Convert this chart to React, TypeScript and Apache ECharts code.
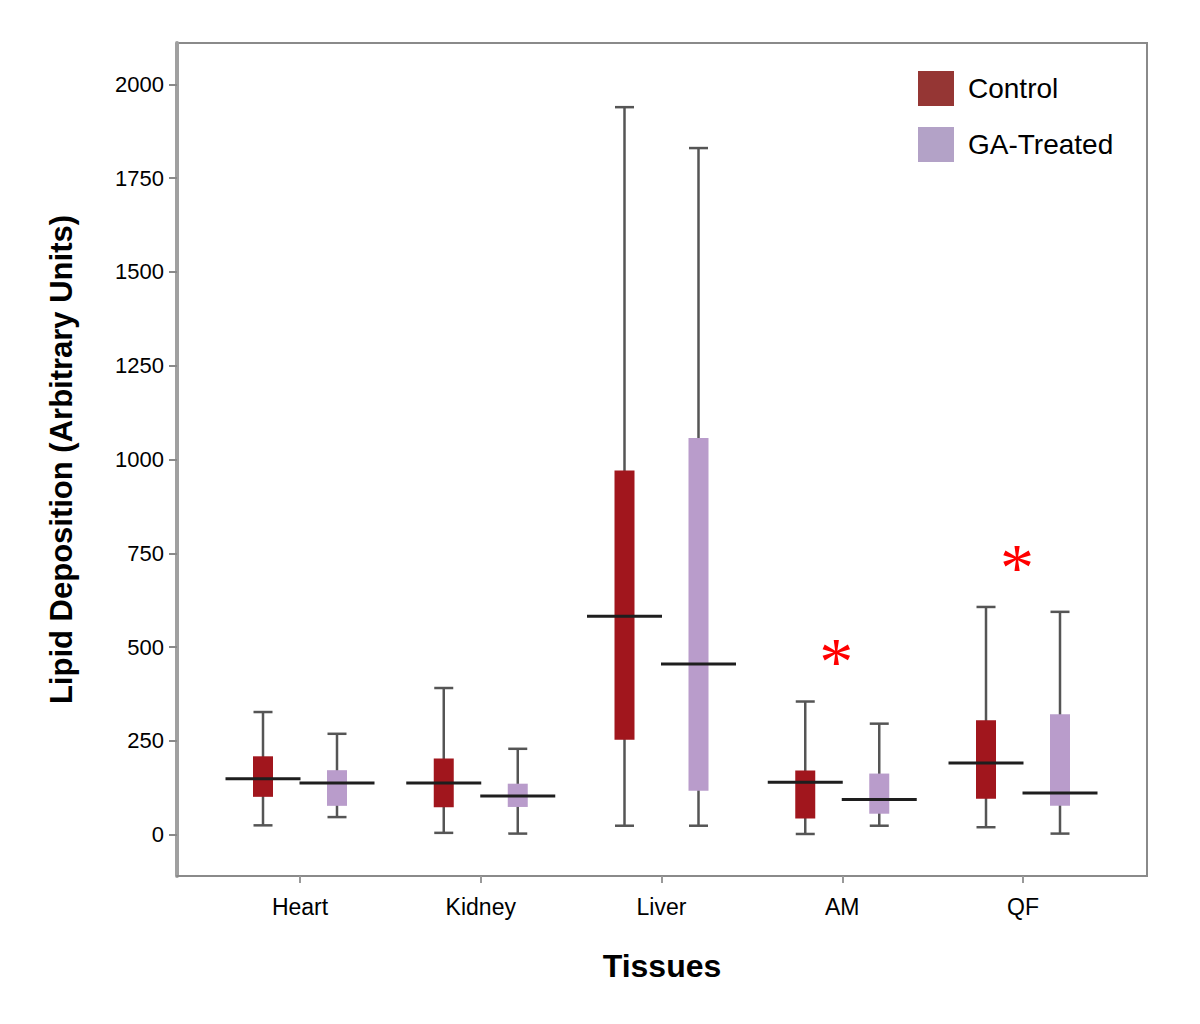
import React, { useEffect, useRef } from "react";
import * as echarts from "echarts";

// ---- Data ----
const categories = ["Heart", "Kidney", "Liver", "AM", "QF"];
const seriesNames = ["Control", "GA-Treated"];
// [min, Q1, median, Q3, max]
const controlStats = [
  [25, 101, 149, 209, 327],
  [5, 73, 138, 203, 391],
  [24, 253, 582, 971, 1939],
  [2, 43, 140, 171, 355],
  [20, 96, 191, 305, 607],
];
const treatedStats = [
  [47, 77, 138, 172, 269],
  [3, 74, 103, 136, 229],
  [24, 117, 455, 1057, 1830],
  [24, 56, 94, 163, 296],
  [3, 77, 111, 321, 594],
];
// significance markers: category and the value where the asterisk sits
const markerCategories = ["AM", "QF"];
const markerValues = [493, 743];
const yTicks = [0, 250, 500, 750, 1000, 1250, 1500, 1750, 2000];

const FONT = "'Liberation Sans', Arial, Helvetica, sans-serif";
const CONTROL_BOX = "#A1161D";
const TREATED_BOX = "#B99CCB";
const CONTROL_LEGEND = "#953634";
const TREATED_LEGEND = "#B3A2C7";

function makeBoxRender(offsetPx: number, fill: string) {
  return (params: any, api: any) => {
    const x = api.value(0);
    const lo = api.coord([x, api.value(1)]);
    const q1 = api.coord([x, api.value(2)]);
    const med = api.coord([x, api.value(3)]);
    const q3 = api.coord([x, api.value(4)]);
    const hi = api.coord([x, api.value(5)]);
    const cx = lo[0] + offsetPx;
    const boxW = 20;
    const capW = 19;
    const medW = 75;
    const wStyle = { stroke: "#555", lineWidth: 2.5 };
    return {
      type: "group",
      children: [
        { type: "line", shape: { x1: cx, y1: hi[1], x2: cx, y2: lo[1] }, style: wStyle },
        { type: "line", shape: { x1: cx - capW / 2, y1: hi[1], x2: cx + capW / 2, y2: hi[1] }, style: wStyle },
        { type: "line", shape: { x1: cx - capW / 2, y1: lo[1], x2: cx + capW / 2, y2: lo[1] }, style: wStyle },
        {
          type: "rect",
          shape: { x: cx - boxW / 2, y: q3[1], width: boxW, height: q1[1] - q3[1] },
          style: { fill },
        },
        {
          type: "line",
          shape: { x1: cx - medW / 2, y1: med[1], x2: cx + medW / 2, y2: med[1] },
          style: { stroke: "#1e1e1e", lineWidth: 3 },
        },
      ],
    };
  };
}

function asteriskRender(params: any, api: any) {
  const p = api.coord([api.value(0), api.value(1)]);
  return {
    type: "text",
    x: p[0] - 6,
    y: p[1] + 11,
    style: {
      text: "*",
      fill: "#FF0000",
      fontSize: 68,
      fontFamily: "'Liberation Serif', 'Times New Roman', serif",
      align: "center",
      verticalAlign: "middle",
    },
  };
}

export default function App() {
  const ref = useRef<HTMLDivElement>(null);
  useEffect(() => {
    if (!ref.current) return;
    const chart = echarts.init(ref.current, undefined, { renderer: "svg" });
    const controlData = controlStats.map((s, i) => [i + 1, ...s]);
    const treatedData = treatedStats.map((s, i) => [i + 1, ...s]);
    const markerData = markerCategories.map((c, i) => [categories.indexOf(c) + 1, markerValues[i]]);
    chart.setOption({
      animation: false,
      backgroundColor: "#ffffff",
      textStyle: { fontFamily: FONT },
      grid: {
        left: 177,
        right: 53,
        top: 43,
        bottom: 148,
        show: true,
        borderColor: "#8a8a8a",
        borderWidth: 2,
        backgroundColor: "transparent",
      },
      legend: {
        orient: "vertical",
        left: 918,
        top: 71,
        itemWidth: 36,
        itemHeight: 35,
        itemGap: 21,
        padding: 0,
        selectedMode: false,
        textStyle: { fontSize: 28, color: "#000", fontFamily: FONT, padding: [4, 0, 0, 9] },
        data: [
          { name: seriesNames[0], icon: "rect", itemStyle: { color: CONTROL_LEGEND } },
          { name: seriesNames[1], icon: "rect", itemStyle: { color: TREATED_LEGEND } },
        ],
      },
      xAxis: {
        type: "value",
        min: 0.3195,
        max: 5.686,
        name: "Tissues",
        nameLocation: "middle",
        nameGap: 74,
        nameTextStyle: { fontSize: 32, fontWeight: "bold", color: "#000", fontFamily: FONT },
        axisLine: { show: true, onZero: false, lineStyle: { color: "#8a8a8a", width: 2 } },
        axisTick: { show: true, length: 7, lineStyle: { color: "#999", width: 2 }, customValues: [1, 2, 3, 4, 5] },
        axisLabel: {
          fontSize: 23,
          color: "#000",
          margin: 19,
          customValues: [1, 2, 3, 4, 5],
          formatter: (v: number) => categories[Math.round(v) - 1] ?? "",
        },
        splitLine: { show: false },
      },
      yAxis: {
        type: "value",
        min: -110,
        max: 2110,
        name: "Lipid Deposition (Arbitrary Units)",
        nameLocation: "middle",
        nameGap: 100,
        nameTextStyle: { fontSize: 31, fontWeight: "bold", color: "#000", fontFamily: FONT },
        axisLine: { show: true, onZero: false, lineStyle: { color: "#a0a0a0", width: 4 } },
        axisTick: { show: true, length: 8, lineStyle: { color: "#8a8a8a", width: 2 }, customValues: yTicks },
        axisLabel: {
          fontSize: 22,
          color: "#000",
          margin: 13,
          customValues: yTicks,
          formatter: (v: number) => String(v),
        },
        splitLine: { show: false },
      },
      series: [
        {
          name: seriesNames[0],
          type: "custom",
          color: CONTROL_BOX,
          renderItem: makeBoxRender(-37, CONTROL_BOX),
          encode: { x: 0, y: [1, 2, 3, 4, 5] },
          data: controlData,
          z: 3,
        },
        {
          name: seriesNames[1],
          type: "custom",
          color: TREATED_BOX,
          renderItem: makeBoxRender(37, TREATED_BOX),
          encode: { x: 0, y: [1, 2, 3, 4, 5] },
          data: treatedData,
          z: 3,
        },
        {
          name: "significance",
          type: "custom",
          renderItem: asteriskRender,
          encode: { x: 0, y: 1 },
          data: markerData,
          z: 4,
        },
      ],
    });
    return () => chart.dispose();
  }, []);
  return (
    <div
      ref={ref}
      style={{ position: "fixed", left: 0, top: 0, width: 1200, height: 1024, background: "#fff" }}
    />
  );
}
